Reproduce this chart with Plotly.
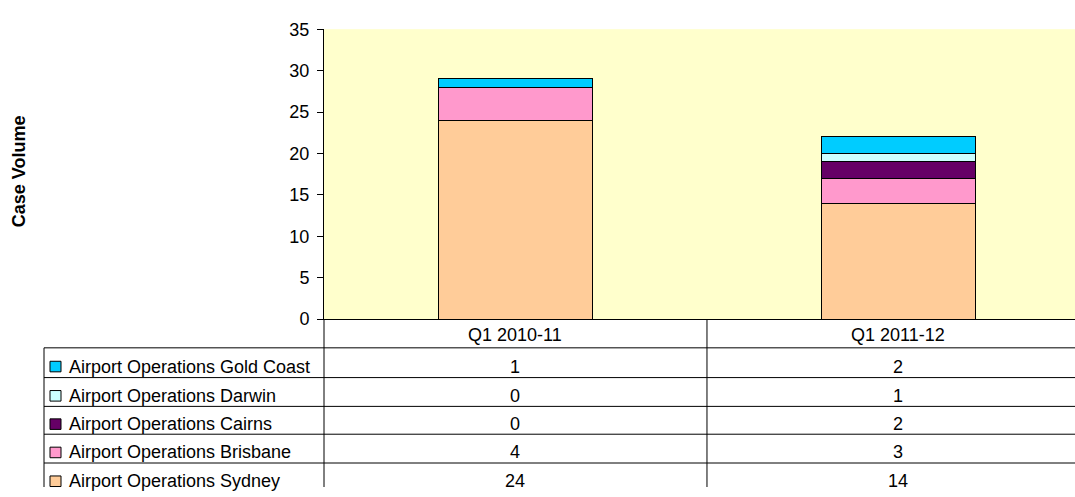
import plotly.graph_objects as go

# ---- data ----
categories = ["Q1 2010-11", "Q1 2011-12"]
series_names = [
    "Airport Operations Gold Coast",
    "Airport Operations Darwin",
    "Airport Operations Cairns",
    "Airport Operations Brisbane",
    "Airport Operations Sydney",
]
gold_coast = [1, 2]
darwin = [0, 1]
cairns = [0, 2]
brisbane = [4, 3]
sydney = [24, 14]
series_values = [gold_coast, darwin, cairns, brisbane, sydney]
series_colors = ["#00CCFF", "#CCFFFF", "#660066", "#FF99CC", "#FFCC99"]
y_ticks = [0, 5, 10, 15, 20, 25, 30, 35]

# ---- layout helpers (page pixels -> paper) ----
W, H = 1075, 497
FONT = "Liberation Sans, Arial, sans-serif"
FS = 18


def px(x):
    return x / W


def py(y):
    return 1 - y / H


plot_left, plot_top, plot_bottom = 324, 20, 322
table_left = 44
row_edges = [352, 383, 413, 442, 472, 502]

fig = go.Figure()

# stack bottom to top: Sydney, Brisbane, Cairns, Darwin, Gold Coast
for name, vals, col in reversed(list(zip(series_names, series_values, series_colors))):
    fig.add_trace(go.Bar(
        x=categories, y=vals, name=name, width=0.4,
        marker=dict(color=col, line=dict(color="black", width=1)),
        hoverinfo="x+y+name",
    ))

shapes = []
annotations = []

# header row (category labels)
for c in categories:
    annotations.append(dict(
        x=c, xref="x", y=py((plot_bottom + row_edges[0]) / 2 + 2), yref="paper",
        text=c, showarrow=False, xanchor="center", yanchor="middle",
        font=dict(family=FONT, size=FS, color="black"),
    ))

# table horizontal lines
for e in row_edges[:-1]:
    shapes.append(dict(type="line", xref="paper", yref="paper",
                       x0=px(table_left), x1=1, y0=py(e), y1=py(e),
                       line=dict(color="black", width=1)))
# vertical lines
shapes.append(dict(type="line", xref="paper", yref="paper",
                   x0=px(table_left), x1=px(table_left), y0=py(row_edges[0]), y1=0,
                   line=dict(color="black", width=1)))
shapes.append(dict(type="line", xref="paper", yref="paper",
                   x0=px(plot_left), x1=px(plot_left), y0=py(plot_bottom), y1=0,
                   line=dict(color="black", width=1)))
shapes.append(dict(type="line", xref="x", yref="paper",
                   x0=0.5, x1=0.5, y0=py(plot_bottom), y1=0,
                   line=dict(color="black", width=1)))

# rows: legend key, name, values
for i, (name, vals, col) in enumerate(zip(series_names, series_values, series_colors)):
    top, bot = row_edges[i], row_edges[i + 1]
    mid = (top + bot) / 2 + 4
    shapes.append(dict(type="rect", xref="paper", yref="paper",
                       x0=px(50), x1=px(61), y0=py(mid - 5.5), y1=py(mid + 5.5),
                       fillcolor=col, line=dict(color="black", width=1)))
    annotations.append(dict(
        x=px(67), xref="paper", y=py(mid), yref="paper", text=name,
        showarrow=False, xanchor="left", yanchor="middle",
        font=dict(family=FONT, size=FS, color="black"),
    ))
    for c, v in zip(categories, vals):
        annotations.append(dict(
            x=c, xref="x", y=py(mid), yref="paper", text=str(v),
            showarrow=False, xanchor="center", yanchor="middle",
            font=dict(family=FONT, size=FS, color="black"),
        ))

# y-axis title
annotations.append(dict(
    x=px(19), xref="paper", y=py(168), yref="paper", text="<b>Case Volume</b>",
    textangle=-90, showarrow=False, xanchor="center", yanchor="middle",
    font=dict(family=FONT, size=FS, color="black"),
))

fig.update_layout(
    width=W, height=H,
    margin=dict(l=0, r=0, t=0, b=0),
    barmode="stack",
    showlegend=False,
    paper_bgcolor="white",
    plot_bgcolor="#FFFFCC",
    font=dict(family=FONT, size=FS, color="black"),
    xaxis=dict(
        domain=[px(plot_left), 1],
        range=[-0.5, 1.461],
        showticklabels=False, ticks="",
        showline=True, linecolor="black", linewidth=1,
        showgrid=False, zeroline=False, fixedrange=True,
    ),
    yaxis=dict(
        domain=[py(plot_bottom), py(plot_top)],
        range=[0, 35], tickvals=y_ticks,
        ticks="outside", ticklen=6, tickcolor="black",
        showline=True, linecolor="black", linewidth=1,
        showgrid=False, zeroline=False,
        tickfont=dict(family=FONT, size=FS, color="black"),
        ticklabelstandoff=4,
    ),
    shapes=shapes,
    annotations=annotations,
)

fig.write_html(
    "out.html",
    config={"displayModeBar": False},
    post_script="document.body.style.margin='0';"
                "document.documentElement.style.overflow='hidden';",
)
